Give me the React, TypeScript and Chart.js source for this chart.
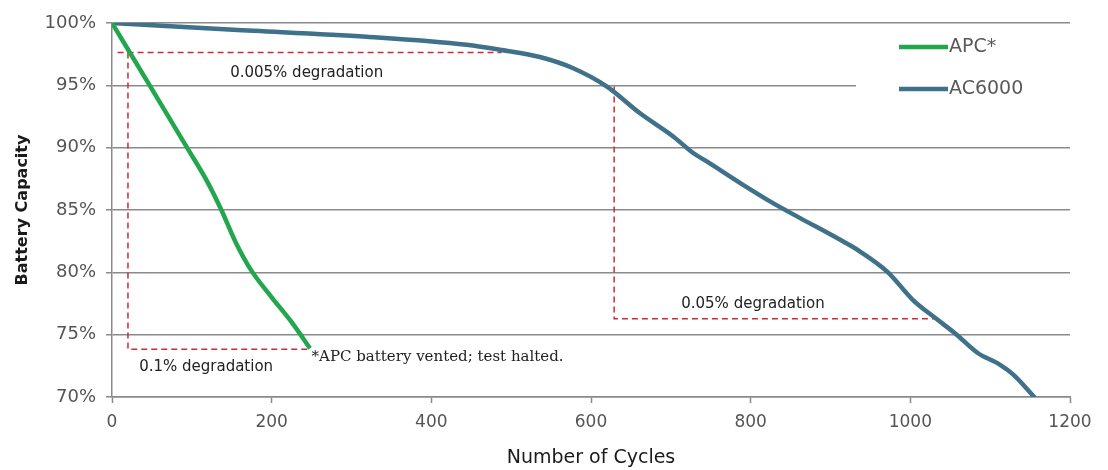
import React, { useEffect, useRef } from 'react';
import { Chart, registerables } from 'chart.js';

Chart.register(...registerables);

// cycles / capacity (%)
const apcCycles = [0, 50, 94, 120, 137, 155, 174, 200, 225, 248];
const apcCapacity = [100, 94.7, 90, 87.2, 85, 82.4, 80.2, 78, 76, 73.9];

const ac6000Cycles = [0, 152, 319, 444, 486, 536, 577, 620, 661, 703, 728, 745, 787, 828, 862, 916, 937, 972, 1003, 1033, 1058, 1084, 1112, 1129, 1156];
const ac6000Capacity = [100, 99.46, 98.9, 98.26, 97.86, 97.27, 96.39, 94.9, 92.78, 90.9, 89.57, 88.9, 87.16, 85.55, 84.35, 82.47, 81.67, 80.0, 77.8, 76.25, 75.0, 73.55, 72.6, 71.8, 69.95];

// red dashed guide lines (cycles, capacity)
const guideTopCycles = [7, 488];
const guideTopCapacity = [97.64, 97.64];
const guideApcCycles = [20, 20, 248];
const guideApcCapacity = [97.64, 73.84, 73.84];
const guideAcCycles = [629, 629, 1033];
const guideAcCapacity = [94.9, 76.27, 76.27];

const noteTexts = ['0.005% degradation', '0.1% degradation', '0.05% degradation', '*APC battery vented; test halted.'];
const noteCycles = [148, 34, 713, 250];
const noteCapacity = [96.0, 72.4, 77.45, 73.2];

const seriesLabels = ['APC*', 'AC6000'];
const yTicks = [70, 75, 80, 85, 90, 95, 100];
const xTicks = [0, 200, 400, 600, 800, 1000, 1200];

const GREEN = '#22a64e';
const BLUE = '#3f718b';
const RED = '#cc2b38';
const GRID = '#8a8a8a';

const zip = (xs: number[], ys: number[]) => xs.map((x, i) => ({ x, y: ys[i] }));

const guide = (xs: number[], ys: number[]) => ({
  label: 'guide',
  data: zip(xs, ys),
  borderColor: RED,
  borderWidth: 1.5,
  borderDash: [6, 4],
  pointRadius: 0,
  tension: 0,
});

const notesPlugin = {
  id: 'notes',
  afterDatasetsDraw(chart: any) {
    const { ctx, scales } = chart;
    ctx.save();
    ctx.textBaseline = 'middle';
    ctx.textAlign = 'left';
    noteTexts.forEach((t, i) => {
      const px = scales.x.getPixelForValue(noteCycles[i]);
      const py = scales.y.getPixelForValue(noteCapacity[i]);
      ctx.fillStyle = '#222';
      ctx.font = t.startsWith('*') ? '15px "DejaVu Serif"' : '15px "DejaVu Sans"';
      ctx.fillText(t, px, py);
    });
    ctx.restore();
  },
};

const legendPlugin = {
  id: 'cornerLegend',
  beforeDatasetsDraw(chart: any) {
    const { ctx, chartArea } = chart;
    ctx.save();
    ctx.fillStyle = '#fff';
    ctx.fillRect(chartArea.right - 214, chartArea.top + 10, 230, 100);
    ctx.restore();
  },
  afterDatasetsDraw(chart: any) {
    const { ctx, chartArea } = chart;
    const colors = [GREEN, BLUE];
    ctx.save();
    seriesLabels.forEach((label, i) => {
      const y = chartArea.top + 24 + i * 42;
      ctx.strokeStyle = colors[i];
      ctx.lineWidth = 4.5;
      ctx.beginPath();
      ctx.moveTo(chartArea.right - 171, y);
      ctx.lineTo(chartArea.right - 122, y);
      ctx.stroke();
      ctx.fillStyle = '#5a5a5a';
      ctx.font = '19px "DejaVu Sans"';
      ctx.textBaseline = 'middle';
      ctx.fillText(label, chartArea.right - 121, y);
    });
    ctx.restore();
  },
};

export default function App() {
  const canvasRef = useRef<HTMLCanvasElement>(null);

  useEffect(() => {
    if (!canvasRef.current) return;
    const chart = new Chart(canvasRef.current, {
      type: 'line',
      data: {
        datasets: [
          {
            label: seriesLabels[0],
            data: zip(apcCycles, apcCapacity),
            borderColor: GREEN,
            borderWidth: 4.5,
            pointRadius: 0,
            cubicInterpolationMode: 'monotone',
          },
          {
            label: seriesLabels[1],
            data: zip(ac6000Cycles, ac6000Capacity),
            borderColor: BLUE,
            borderWidth: 4.5,
            pointRadius: 0,
            cubicInterpolationMode: 'monotone',
          },
          guide(guideTopCycles, guideTopCapacity),
          guide(guideApcCycles, guideApcCapacity),
          guide(guideAcCycles, guideAcCapacity),
        ] as any,
      },
      options: {
        animation: false,
        responsive: true,
        maintainAspectRatio: false,
        layout: { padding: { left: 0, right: 38, top: 23, bottom: 0 } },
        plugins: { legend: { display: false }, tooltip: { enabled: false } },
        scales: {
          x: {
            type: 'linear',
            min: 0,
            max: 1200,
            afterBuildTicks: (s: any) => { s.ticks = xTicks.map(v => ({ value: v })); },
            afterFit: (s: any) => { s.height = 73; },
            ticks: {
              color: '#555',
              padding: 9,
              font: { family: '"DejaVu Sans"', size: 17 },
              callback: (v: any) => String(v),
            },
            grid: { drawOnChartArea: false, tickLength: 6, tickColor: GRID, tickWidth: 1.5 },
            border: { color: GRID, width: 1.5 },
            title: {
              display: true,
              text: 'Number of Cycles',
              color: '#1a1a1a',
              font: { family: '"DejaVu Sans"', size: 19 },
              padding: { top: 0, bottom: 1 },
            },
          },
          y: {
            min: 70,
            max: 100,
            afterBuildTicks: (s: any) => { s.ticks = yTicks.map(v => ({ value: v })); },
            afterFit: (s: any) => { s.width = 112; },
            ticks: {
              color: '#555',
              padding: 10,
              font: { family: '"DejaVu Sans"', size: 18 },
              callback: (v: any) => v + '%',
            },
            grid: { color: GRID, lineWidth: 1.5, tickLength: 6, tickColor: GRID },
            border: { color: GRID, width: 1.5 },
            title: {
              display: true,
              text: 'Battery Capacity',
              color: '#1a1a1a',
              font: { family: '"DejaVu Sans"', size: 16, weight: 'bold' },
              padding: { top: 13, bottom: 0 },
            },
          },
        },
      },
      plugins: [legendPlugin, notesPlugin],
    });
    return () => chart.destroy();
  }, []);

  return (
    <div style={{ position: 'absolute', left: 0, top: 0, width: 1108, height: 470, background: '#fff' }}>
      <canvas ref={canvasRef}></canvas>
    </div>
  );
}
